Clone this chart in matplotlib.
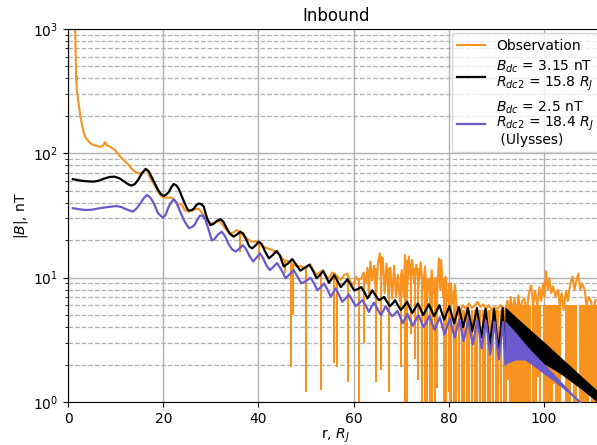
"""
Inbound |B| profile: observation vs. two current-sheet models.

Dense parts of the observed trace are kept as a trace plus a list of
downward spikes (drawn as vertical lines), the same way they look on screen.
"""
import matplotlib
matplotlib.use("Agg")
import matplotlib.pyplot as plt

# ---------------------------------------------------------------------------
# Data
# ---------------------------------------------------------------------------

obs_r = [
    1.3, 1.5, 1.6, 1.7, 1.75, 1.8, 2.0, 2.3, 2.6, 3.0, 3.3, 3.8, 4.4, 5.0, 5.7,
    6.5, 7.2, 7.5, 7.8, 8.1, 8.8, 9.9, 10.6, 11.3, 12.0, 12.7, 13.4, 14.1, 14.8,
    15.5, 16.0, 16.4, 16.8, 17.4, 18.0, 18.7, 19.4, 20.0, 20.4, 21.2, 21.8, 22.4,
    22.9, 23.3, 23.9, 24.5, 25.3, 26.0, 26.8, 27.4, 28.2, 29.0, 29.9, 30.8, 31.5,
    32.0, 32.8, 33.9, 34.7, 35.4, 36.3, 37.0, 37.6, 38.5, 39.7, 40.3, 41.0, 41.9,
    42.7, 43.6, 44.5, 45.3, 46.0,
    46.5, 47.2, 48.2, 49.0, 49.5, 50.2, 50.9, 51.5, 52.2, 52.8, 53.5, 54.2, 54.8,
    55.5, 56.0, 56.6, 57.3, 58.0, 58.7, 59.3, 60.0, 60.5, 61.0, 61.6, 62.1, 62.5,
    62.9, 63.2, 63.5, 63.9, 64.3, 64.7, 65.1, 65.5, 65.8, 66.1, 66.5, 66.9, 67.3,
    67.7, 68.1, 68.5, 68.9, 69.3, 69.7, 70.1, 70.5, 70.8, 71.2, 71.6, 72.0, 72.3,
    72.7, 73.2, 73.6, 74.1, 74.5, 75.0, 75.3, 75.6, 76.0, 76.4, 76.8, 77.2, 77.5,
    77.9, 78.2, 78.4, 78.8, 79.3, 79.7, 80.0, 80.4, 80.8, 81.1, 81.3, 81.6,
    81.8, 82.4, 83.0, 83.6, 84.2, 84.8, 85.4, 86.0, 86.6, 87.2, 87.8, 88.4, 89.0,
    89.6, 90.2, 90.8, 91.4, 92.0,
    92.3, 92.6, 93.0, 93.4, 93.8, 94.2, 94.6, 95.0, 95.4, 95.9, 96.3, 96.8, 97.3,
    97.7, 98.1, 98.6, 99.0, 99.4, 99.8, 100.1, 100.4, 100.8, 101.1, 101.5, 101.9,
    102.4, 102.9, 103.3, 103.7, 104.1, 104.6, 105.0, 105.3, 105.7, 106.0, 106.4,
    106.8, 107.2, 107.6, 108.0, 108.5, 108.9, 109.4, 109.9, 110.3, 110.8, 111.3,
    111.8, 112.4,
]
obs_b = [
    1500, 1000, 600, 390, 420, 330, 290, 240, 197, 165, 145, 132, 124, 118, 116,
    113, 114, 118, 123, 116, 113, 106, 98, 91, 86, 81, 75, 71, 69,
    69, 72, 74.5, 70, 62, 57, 51, 46, 44.5, 44, 44, 44, 42,
    40, 39, 38.5, 35, 34, 34.5, 35.5, 36, 33, 29.5, 27.4, 27.5, 28.5,
    28.2, 25.5, 22.8, 23, 24.2, 23, 21.5, 20.7, 19.5, 19.5, 18.5, 17.8, 17.2,
    16.8, 16.2, 15.2, 13.9, 13.6,
    13.5, 12.8, 12.3, 12.4, 11.9, 12.2, 12.8, 11.5, 10.6, 11.0, 11.5, 10.3, 9.9,
    11.0, 10.8, 10.2, 9.6, 10.5, 10.8, 9.2, 8.8, 10.2, 9.5, 9.8, 11.0, 9.0,
    12.0, 7.5, 13.5, 9.5, 12.5, 7.0, 13.0, 15.7, 10.5, 14.5, 7.5, 13.0, 7.0,
    12.0, 6.8, 12.5, 7.0, 10.5, 6.5, 11.5, 7.0, 15.2, 7.5, 14.8, 9.5, 13.9,
    9.0, 12.7, 8.5, 13.3, 8.0, 12.3, 7.5, 9.6, 7.0, 11.5, 7.5, 10.0, 7.0,
    14.3, 8.0, 13.9, 7.0, 10.2, 6.5, 8.0, 9.0, 6.2, 7.5, 8.7, 6.0,
    5.8, 5.5, 6.0, 5.6, 6.2, 5.7, 5.9, 6.4, 5.8, 6.1, 5.6, 6.0, 5.5,
    5.8, 5.6, 6.0, 5.7, 5.6,
    6.5, 4.5, 7.0, 5.0, 6.8, 4.8, 7.2, 5.2, 6.5, 6.8, 5.0, 7.5, 8.7,
    6.0, 7.8, 6.0, 8.4, 6.5, 9.0, 7.0, 11.3, 8.0, 9.9, 7.5, 8.5,
    7.0, 8.0, 6.0, 7.5, 5.5, 7.8, 6.5, 8.0, 9.5, 10.2, 8.0,
    9.5, 10.8, 8.0, 9.0, 8.0, 6.0, 7.0, 6.4, 5.0, 6.6, 6.6,
    5.5, 6.0,
]

# downward spikes of the observation: position, bottom, top
spike_r = [
    36.1, 40.1, 45.6, 46.8, 47.3, 49.9, 53.2, 55.9, 56.4, 58.8,
    61.1, 62.2, 64.6, 65.7, 67.4, 69.9, 70.7, 71.3, 72.1, 72.8,
    73.5, 74.3, 74.9, 75.4, 76.0, 76.5, 77.1, 77.6, 78.9, 79.4,
    80.0, 80.5, 81.0, 81.6, 82.1, 82.7, 83.2, 83.8, 84.3, 84.9,
    85.4, 86.0, 86.5, 87.1, 87.6, 88.2, 88.7, 89.3, 89.8, 90.4,
    90.9, 91.5, 92.0, 92.4, 92.8, 93.3, 93.7, 94.1, 94.6, 95.0,
    95.4, 95.8, 96.3, 96.7, 97.1, 97.6, 98.0, 98.4, 98.8, 99.2,
    100.0, 100.4, 100.9, 101.3, 101.7, 102.1, 102.6, 103.0, 103.4, 104.6,
    105.0, 105.4, 105.8, 106.3, 106.7, 107.5, 107.9, 108.3, 108.8, 109.2,
    109.6, 110.1, 110.5, 110.9, 111.4,
]
spike_lo = [
    16.2, 13.9, 10.9, 1.92, 5.0, 1.21, 1.25, 2.05, 1.92, 1.46,
    0.9, 3.0, 1.46, 1.81, 1.21, 1.92, 0.9, 0.9, 3.5, 2.2,
    1.5, 0.9, 0.9, 0.9, 0.9, 0.9, 0.9, 1.3, 0.9, 0.9,
    1.2, 0.9, 0.9, 0.9, 0.9, 0.9, 0.9, 0.9, 0.9, 0.9,
    0.9, 0.9, 0.9, 0.9, 0.9, 0.9, 0.9, 0.9, 0.9, 0.9,
    0.9, 0.9, 0.9, 1.5, 0.9, 0.9, 0.9, 0.9, 0.9, 0.9,
    0.9, 0.9, 0.9, 0.9, 0.9, 0.9, 0.9, 0.9, 1.6, 0.9,
    0.9, 0.9, 0.9, 0.9, 0.9, 1.4, 0.9, 0.9, 0.9, 0.9,
    0.9, 0.9, 1.5, 0.9, 0.9, 0.9, 0.9, 0.9, 0.9, 0.9,
    1.3, 0.9, 0.9, 0.9, 0.9,
]
spike_hi = [
    24, 19, 14, 13.5, 13, 12, 11.3, 11, 10.5, 10.5,
    10, 10, 12, 15, 12, 11, 14, 14, 13, 12,
    12, 10, 10, 10, 10, 10, 10, 10, 10, 10,
    9, 9, 8, 6, 5.5, 5.5, 5.5, 5.5, 5.5, 5.5,
    5.5, 5.5, 5.5, 5.5, 5.5, 5.5, 5.5, 5.5, 5.5, 5.5,
    5.5, 5.5, 6, 6, 6, 6, 6, 6, 6, 6,
    6, 6, 6, 6, 6, 6, 6, 6, 6, 6,
    6, 6, 6, 6, 6, 6, 6, 6, 6, 6,
    6, 6, 6, 6, 6, 6, 6, 6, 6, 6,
    6, 6, 6, 6, 6,
]

# model 1: B_dc = 3.15 nT, R_dc2 = 15.8 R_J
black_r = [
    1.0, 2.0, 3.1, 4.3, 5.5, 6.6, 7.6, 8.7, 9.7, 10.8,
    11.9, 12.6, 13.3, 14.0, 14.7, 15.5, 16.3, 16.9, 17.5, 18.2,
    18.9, 19.5, 20.1, 20.6, 21.2, 21.7, 22.2, 22.8, 23.3, 23.9,
    24.5, 25.0, 25.4, 26.0, 26.5, 27.0, 27.5, 28.0, 28.5, 29.2,
    29.9, 30.5, 31.2, 32.0, 32.6, 33.2, 34.0, 34.8, 35.5, 36.2,
    36.8, 37.5, 38.1, 38.7, 39.4, 40.1, 40.7, 41.4, 42.2, 43.0,
    43.8, 44.5, 45.3, 46.2, 47.1, 48.0, 48.8, 49.7, 50.7, 51.5,
    52.2, 52.9, 53.6, 54.2, 54.8, 55.4, 55.9, 56.6, 57.3, 58.0,
    58.7, 59.4, 60.1, 60.9, 61.6, 62.3, 62.9, 63.4, 63.9, 64.6,
    65.3, 65.9, 66.4, 67.0, 67.6, 68.2, 68.7, 69.3, 69.9, 70.6,
    71.2, 72.3, 73.5, 74.6, 75.8, 76.9, 78.0, 79.0, 80.1, 81.1,
    82.1, 83.0, 84.0, 84.9, 85.9, 86.8, 87.7, 88.6, 89.5, 90.4,
    91.3, 91.9,
]
black_b = [
    62, 61, 60, 59.5, 59.3, 60.5, 62.7, 64.5, 65, 63,
    59, 56.5, 55, 56.5, 61, 69, 75, 72, 65, 57.5,
    50.8, 47, 45.4, 46.5, 49, 53.5, 56.7, 55, 51.4, 45,
    39.7, 36, 34.6, 35, 36.2, 38.5, 39.5, 39, 37.3, 30,
    26.5, 27, 28.5, 29.5, 28.3, 25.5, 22.5, 21.4, 22.3, 23.4,
    22.6, 20, 17.8, 17.2, 18.2, 19.5, 18.6, 16.2, 14.3, 15.2,
    16.4, 15.1, 12.3, 13.0, 14.1, 12.6, 11.4, 12.0, 12.7, 11.3,
    9.9, 10.5, 11.3, 10.2, 9.1, 9.8, 10.5, 9.4, 8.4, 9.0,
    9.7, 8.8, 7.9, 8.1, 8.4, 7.6, 6.8, 7.3, 7.9, 7.2,
    6.6, 6.8, 7.0, 6.4, 5.9, 6.2, 6.6, 6.0, 5.5, 5.9,
    6.4, 5.2, 6.2, 5.0, 6.1, 4.9, 6.0, 4.6, 5.9, 4.3,
    5.8, 4.0, 5.7, 3.7, 5.7, 3.3, 5.6, 2.8, 5.6, 2.5,
    5.7, 2.3,
]

# model 2 (Ulysses): B_dc = 2.5 nT, R_dc2 = 18.4 R_J
purple_r = [
    1.0, 2.4, 3.8, 5.2, 6.6, 8.4, 10.1, 11.2, 12.2, 13.6,
    14.4, 15.2, 16.0, 16.6, 17.3, 18.0, 18.9, 19.9, 20.5, 21.0,
    21.6, 22.2, 22.8, 23.4, 24.5, 25.4, 26.0, 26.6, 27.1, 27.7,
    28.3, 28.9, 29.5, 30.2, 30.8, 31.5, 32.3, 33.0, 33.6, 34.4,
    35.2, 35.9, 36.7, 37.3, 38.1, 38.9, 39.6, 40.3, 40.9, 41.7,
    42.4, 43.1, 43.9, 44.8, 45.7, 46.5, 47.4, 48.2, 49.0, 50.0,
    50.9, 51.6, 52.4, 53.1, 53.8, 54.5, 55.2, 55.7, 56.2, 56.9,
    57.6, 58.3, 59.0, 59.7, 60.4, 61.1, 61.8, 62.5, 63.2, 63.7,
    64.3, 65.0, 65.7, 66.2, 66.7, 67.4, 68.1, 68.6, 69.2, 69.8,
    70.3, 70.8, 71.3, 72.4, 73.6, 74.7, 75.9, 77.0, 78.1, 79.1,
    80.2, 81.2, 82.2, 83.1, 84.1, 85.0, 86.0, 86.9, 87.8, 88.7,
    89.6, 90.5, 91.4, 91.9,
]
purple_b = [
    36.2, 35.5, 35, 35.3, 36.2, 37.0, 37.7, 37.0, 35.5, 34,
    36, 39.7, 44, 46.3, 44, 39.7, 33, 30.4, 32, 36.2,
    40, 42.7, 40, 35, 28.2, 25, 25.5, 26.6, 29, 31.5,
    31.5, 29, 24.5, 19.9, 20.5, 22.3, 23.4, 21.5, 19, 17,
    16.2, 17, 18.3, 17.2, 15, 13.5, 14.5, 15.7, 14.5, 12.5,
    11.5, 12.2, 13.1, 11.6, 9.9, 10.6, 11.5, 10.2, 9.0, 9.4,
    10.0, 9.1, 7.9, 8.4, 9.0, 8.0, 7.0, 7.6, 8.2, 7.3,
    6.4, 6.8, 7.3, 6.6, 5.9, 6.2, 6.6, 6.0, 5.3, 5.8,
    6.3, 5.6, 5.0, 5.4, 5.9, 5.3, 4.9, 5.1, 5.4, 4.8,
    4.3, 4.7, 5.1, 4.1, 5.0, 4.0, 4.9, 3.8, 4.8, 3.5,
    4.7, 3.3, 4.6, 3.1, 4.6, 2.9, 4.5, 2.7, 4.5, 2.4,
    4.4, 2.2, 4.4, 2.0,
]

# beyond ~92 R_J both model curves oscillate so fast they read as bands
band_r = [91.9, 94, 96, 98, 100, 102, 104, 106, 108, 110, 112.5]
black_hi = [5.7, 4.8, 4.1, 3.5, 3.0, 2.55, 2.17, 1.85, 1.57, 1.34, 1.1]
black_lo = [2.3, 2.35, 2.3, 2.2, 2.05, 1.85, 1.65, 1.45, 1.27, 1.1, 0.93]
purple_hi = [4.4, 3.6, 2.9, 2.4, 2.0, 1.67, 1.38, 1.15, 0.97, 0.82, 0.7]
purple_lo = [2.05, 2.2, 2.2, 1.95, 1.7, 1.5, 1.3, 1.12, 0.95, 0.8, 0.7]

labels = [
    "Observation",
    "$B_{dc}$ = 3.15 nT\n$R_{dc2}$ = 15.8 $R_J$",
    "$B_{dc}$ = 2.5 nT\n$R_{dc2}$ = 18.4 $R_J$\n (Ulysses)",
]

ORANGE = "#f7931e"
PURPLE = "#6a5acd"

# ---------------------------------------------------------------------------
# Figure
# ---------------------------------------------------------------------------

fig = plt.figure(figsize=(5.97, 4.45), dpi=100)
ax = fig.add_axes([0.114, 0.0966, 0.897, 0.8382])

h_obs, = ax.plot(obs_r, obs_b, color=ORANGE, lw=1.5, zorder=2, label=labels[0])
ax.vlines(spike_r, spike_lo, spike_hi, color=ORANGE, lw=1.5, zorder=2)

h_blk, = ax.plot(black_r, black_b, color="k", lw=1.6, zorder=3, label=labels[1])
ax.fill_between(band_r, black_lo, black_hi, color="k", lw=0.8, zorder=3)

h_pur, = ax.plot(purple_r, purple_b, color=PURPLE, lw=1.6, zorder=4, label=labels[2])
ax.fill_between(band_r, purple_lo, purple_hi, color=PURPLE, lw=0.8, zorder=4)

ax.set_yscale("log")
ax.set_ylim(1, 1000)
ax.set_xlim(0, 112.5)
ax.set_xticks([0, 20, 40, 60, 80, 100])

ax.grid(which="major", color="#b0b0b0", lw=1.0)
ax.grid(which="minor", axis="y", color="#b0b0b0", lw=0.9, ls="--")
ax.set_axisbelow(True)

ax.set_title("Inbound")
ax.set_xlabel("r, $R_J$", labelpad=1)
ax.set_ylabel("$|B|$, nT", labelpad=2)

leg = ax.legend(handles=[h_obs, h_blk, h_pur], loc="upper right",
                labelspacing=0.45, borderaxespad=0.3)
for t in leg.get_texts():
    t.set_linespacing(0.95)

fig.savefig("out.png", dpi=100)
